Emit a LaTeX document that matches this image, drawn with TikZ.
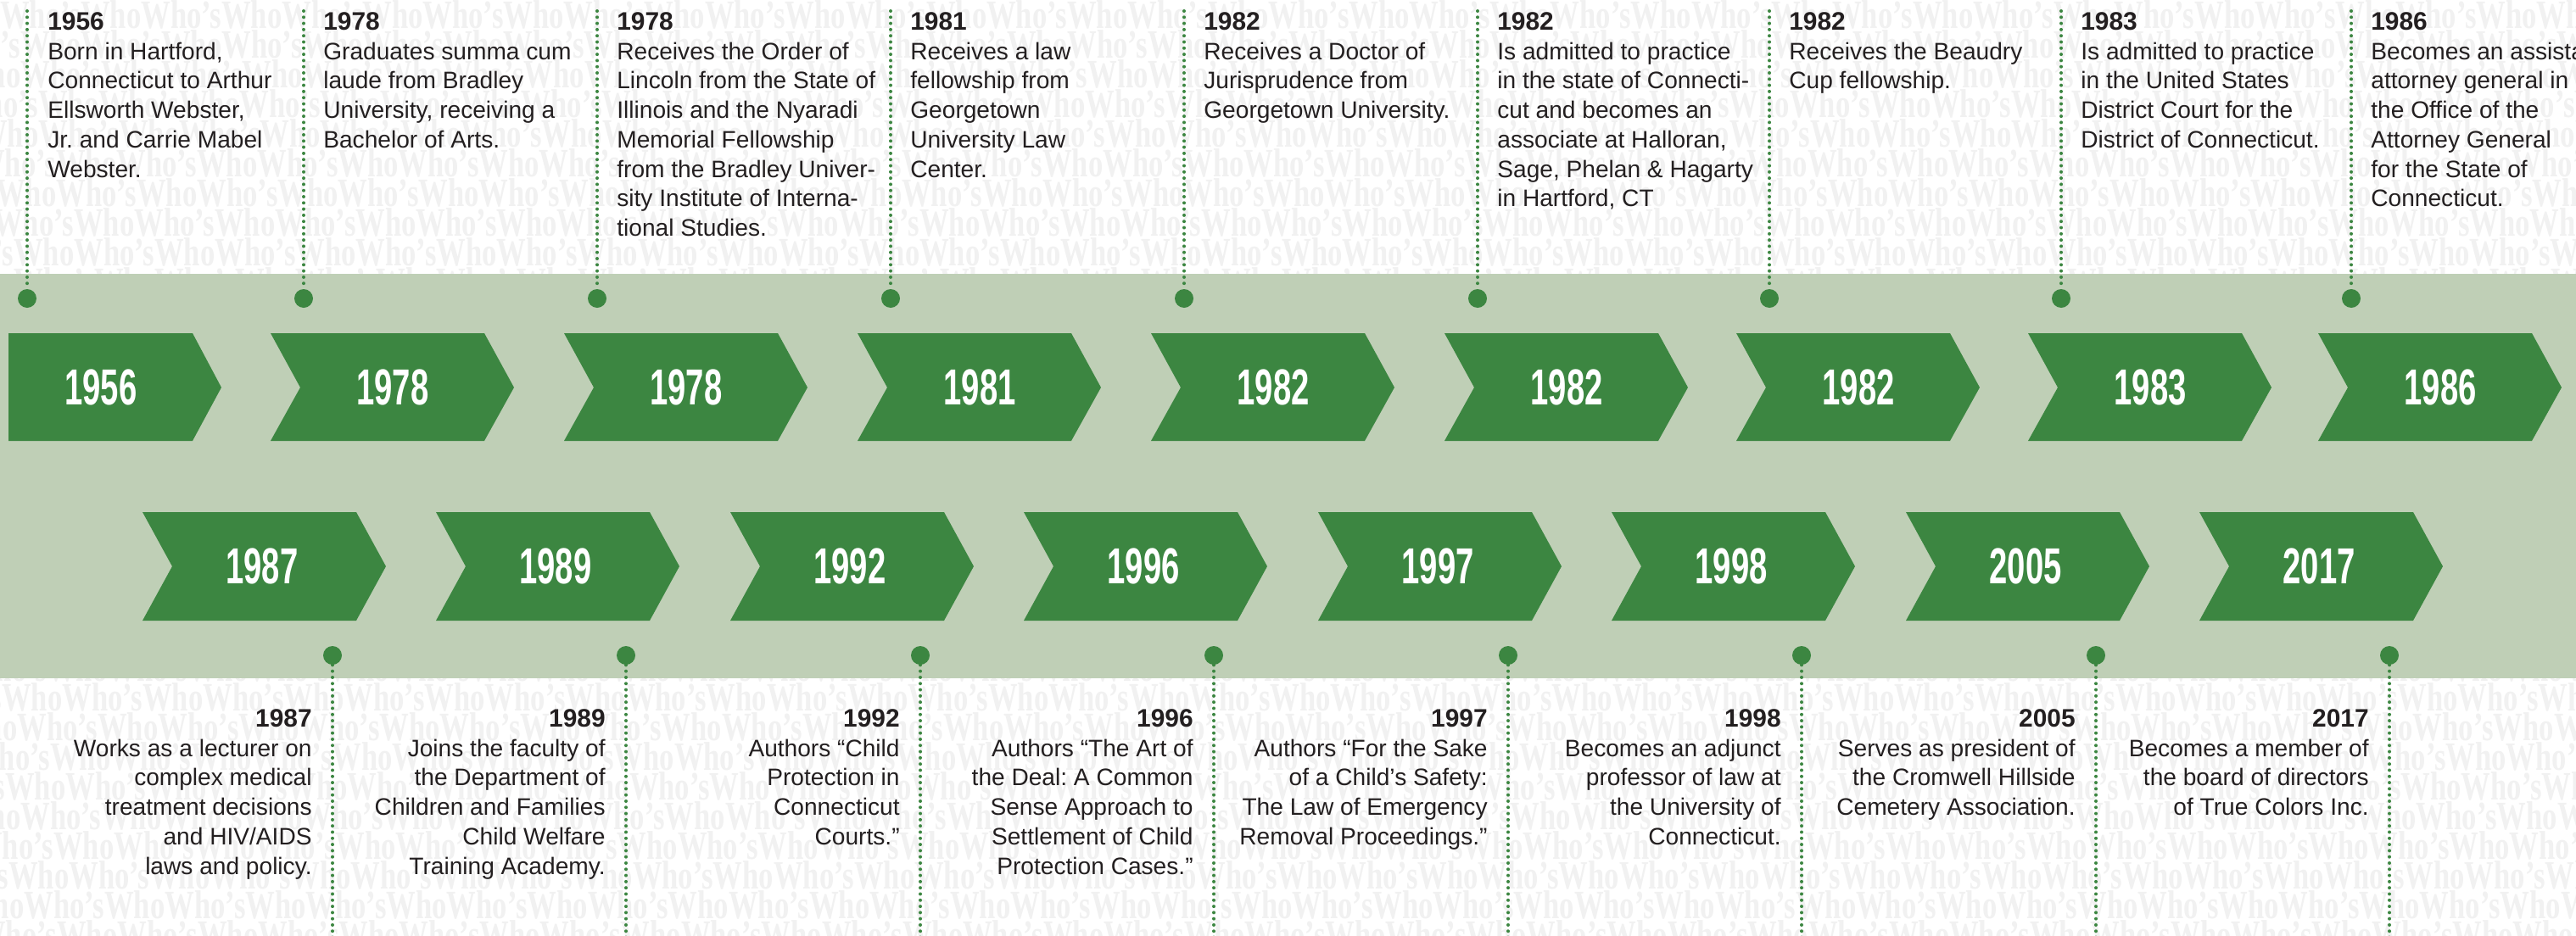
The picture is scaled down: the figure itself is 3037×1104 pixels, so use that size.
\documentclass[tikz,border=0pt]{standalone}
\usepackage{fontspec}
\setmainfont{Liberation Sans}
\newfontfamily\wmfont{Liberation Serif}
\frenchspacing

\definecolor{bandgreen}{HTML}{BFCFB6}
\definecolor{chevgreen}{HTML}{3C8641}
\definecolor{inkblack}{HTML}{231F20}
\definecolor{wmgray}{HTML}{F1F1F1}

\newcommand{\whox}{Who’sWhoWho’sWhoWho’sWhoWho’sWho}
\newcommand{\yrfont}{\fontsize{17}{19.8}\selectfont\bfseries}

\begin{document}
\begin{tikzpicture}[x=0.2mm,y=-0.2mm]
    \tikzstyle{chev}=[fill=chevgreen]
    \tikzstyle{yearlbl}=[text=white,font=\fontsize{34}{34}\selectfont\bfseries,xscale=0.64,inner sep=0]
    \tikzstyle{dot}=[circle,fill=chevgreen,minimum size=4.4mm,inner sep=0]
    \tikzstyle{dotline}=[chevgreen,line width=0.8mm,line cap=round,dash pattern=on 0pt off 1.46mm]
    \tikzstyle{wm}=[anchor=base west,inner sep=0,text=wmgray,xscale=0.73,font=\wmfont\bfseries\fontsize{27}{27}\selectfont]
    \tikzstyle{toptext}=[anchor=north west,align=left,inner sep=0,text=inkblack,font=\fontsize{16}{19.8}\selectfont]
    \tikzstyle{bottext}=[anchor=north east,align=right,inner sep=0,text=inkblack,font=\fontsize{16}{19.8}\selectfont]
    \useasboundingbox (0,0) rectangle (3037,1104);
    \clip (0,0) rectangle (3037,1104);
    \fill[white] (0,0) rectangle (3037,1104);

    % watermark
    \begin{scope}
      \clip (0,0) rectangle (3037,323) (0,800) rectangle (3037,1104);
      \foreach \r in {0,...,9}{
        \node[wm] (wmtop\r) at ({-mod(71*\r,163)},{33+35*\r}) {\whox\whox\whox\whox\whox\whox};
        \node[wm] (wmbot\r) at ({-mod(53*\r+40,163)},{803+35*\r}) {\whox\whox\whox\whox\whox\whox};
      }
    \end{scope}

    % band
    \fill[bandgreen] (0,323) rectangle (3037,800);

    % top row
    \fill[chev] (10,393) -- (227,393) -- (261,457) -- (227,520) -- (10,520) -- cycle;
    \node[yearlbl] (tyear1) at (119,457) {1956};
    \node[dot] (tdot1) at (32,352) {};
    \coordinate (tend1) at (32,13);
    \draw[dotline] (tend1) -- (tdot1);
    \foreach \x/\yr [count=\i from 2] in {319/1978,665/1978,1011/1981,1357/1982,1703/1982,2047/1982,2391/1983,2733/1986}{
      \fill[chev] (\x,393) -- ++(252,0) -- ++(35,64) -- ++(-35,63) -- ++(-252,0) -- ++(35,-63) -- cycle;
      \node[yearlbl] (tyear\i) at (\x+144,457) {\yr};
      \node[dot] (tdot\i) at (\x+39,352) {};
      \coordinate (tend\i) at (\x+39,13);
      \draw[dotline] (tend\i) -- (tdot\i);
    }

    % bottom row
    \foreach \x/\yr [count=\i] in {168/1987,514/1989,861/1992,1207/1996,1554/1997,1900/1998,2247/2005,2593/2017}{
      \fill[chev] (\x,604) -- ++(252,0) -- ++(35,64) -- ++(-35,64) -- ++(-252,0) -- ++(35,-64) -- cycle;
      \node[yearlbl] (byear\i) at (\x+141,668) {\yr};
      \node[dot] (bdot\i) at (\x+224,773) {};
      \coordinate (bend\i) at (\x+224,1110);
      \draw[dotline] (bdot\i) -- (bend\i);
    }

    % top texts
    \node[toptext] (ttext1) at (56,14) {{\yrfont 1956}\\Born in Hartford,\\Connecticut to Arthur\\Ellsworth Webster,\\Jr. and Carrie Mabel\\Webster.};
    \node[toptext] (ttext2) at (381,14) {{\yrfont 1978}\\Graduates summa cum\\laude from Bradley\\University, receiving a\\Bachelor of Arts.};
    \node[toptext] (ttext3) at (727,14) {{\yrfont 1978}\\Receives the Order of\\Lincoln from the State of\\Illinois and the Nyaradi\\Memorial Fellowship\\from the Bradley Univer-\\sity Institute of Interna-\\tional Studies.};
    \node[toptext] (ttext4) at (1073,14) {{\yrfont 1981}\\Receives a law\\fellowship from\\Georgetown\\University Law\\Center.};
    \node[toptext] (ttext5) at (1419,14) {{\yrfont 1982}\\Receives a Doctor of\\Jurisprudence from\\Georgetown University.};
    \node[toptext] (ttext6) at (1765,14) {{\yrfont 1982}\\Is admitted to practice\\in the state of Connecti-\\cut and becomes an\\associate at Halloran,\\Sage, Phelan \& Hagarty\\in Hartford, CT};
    \node[toptext] (ttext7) at (2109,14) {{\yrfont 1982}\\Receives the Beaudry\\Cup fellowship.};
    \node[toptext] (ttext8) at (2453,14) {{\yrfont 1983}\\Is admitted to practice\\in the United States\\District Court for the\\District of Connecticut.};
    \node[toptext] (ttext9) at (2795,14) {{\yrfont 1986}\\Becomes an assistant\\attorney general in\\the Office of the\\Attorney General\\for the State of\\Connecticut.};

    % bottom texts
    \node[bottext] (btext1) at (368,836) {{\yrfont 1987}\\Works as a lecturer on\\complex medical\\treatment decisions\\and HIV/AIDS\\laws and policy.};
    \node[bottext] (btext2) at (714,836) {{\yrfont 1989}\\Joins the faculty of\\the Department of\\Children and Families\\Child Welfare\\Training Academy.};
    \node[bottext] (btext3) at (1061,836) {{\yrfont 1992}\\Authors “Child\\Protection in\\Connecticut\\Courts.”};
    \node[bottext] (btext4) at (1407,836) {{\yrfont 1996}\\Authors “The Art of\\the Deal: A Common\\Sense Approach to\\Settlement of Child\\Protection Cases.”};
    \node[bottext] (btext5) at (1754,836) {{\yrfont 1997}\\Authors “For the Sake\\of a Child’s Safety:\\The Law of Emergency\\Removal Proceedings.”};
    \node[bottext] (btext6) at (2100,836) {{\yrfont 1998}\\Becomes an adjunct\\professor of law at\\the University of\\Connecticut.};
    \node[bottext] (btext7) at (2447,836) {{\yrfont 2005}\\Serves as president of\\the Cromwell Hillside\\Cemetery Association.};
    \node[bottext] (btext8) at (2793,836) {{\yrfont 2017}\\Becomes a member of\\the board of directors\\of True Colors Inc.};
\end{tikzpicture}
\end{document}
